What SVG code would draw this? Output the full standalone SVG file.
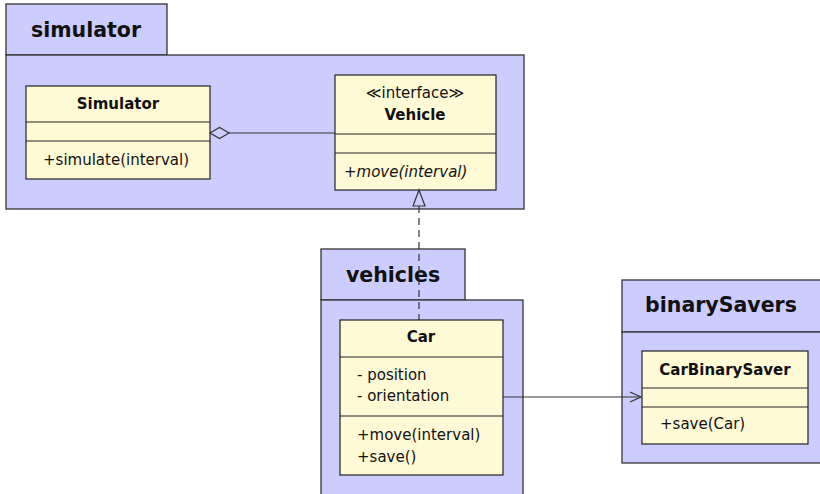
<svg xmlns="http://www.w3.org/2000/svg" width="820" height="494" viewBox="0 0 820 494">
<style>
.pkg{fill:#ccccff;stroke:#333;stroke-width:1.3}
.cls{fill:#fffad6;stroke:#222;stroke-width:1.2}
.sep{stroke:#222;stroke-width:1.2}
text{font-family:"DejaVu Sans","Liberation Sans",sans-serif;fill:#111}
.pt{font-size:20.5px;font-weight:bold;text-anchor:middle}
.cn{font-size:15px;font-weight:bold;text-anchor:middle}
.tx{font-size:15px}
.st{font-size:15px;text-anchor:middle}
.it{font-style:italic}
.edge{stroke:#333;stroke-width:1.2;fill:none}
</style>
<defs>
<marker id="open" markerWidth="14" markerHeight="12" refX="12" refY="6" orient="auto" markerUnits="userSpaceOnUse">
<path d="M1,1 L12,6 L1,11" fill="none" stroke="#333" stroke-width="1.2"/>
</marker>
</defs>
<g id="pkg-simulator">
<rect class="pkg" x="6" y="4" width="161" height="51"/>
<rect class="pkg" x="6" y="55" width="518" height="154"/>
<text class="pt" x="86" y="37">simulator</text>
</g>
<g id="pkg-vehicles">
<rect class="pkg" x="321" y="249" width="144" height="51"/>
<rect class="pkg" x="321" y="300" width="202" height="196"/>
<text class="pt" x="393" y="282">vehicles</text>
</g>
<g id="pkg-binarySavers">
<rect class="pkg" x="622" y="280" width="200" height="52"/>
<rect class="pkg" x="622" y="332" width="200" height="131"/>
<text class="pt" x="721" y="312">binarySavers</text>
</g>
<g id="Simulator">
<rect class="cls" x="26" y="86" width="184" height="93"/>
<line class="sep" x1="26" y1="122" x2="210" y2="122"/>
<line class="sep" x1="26" y1="141" x2="210" y2="141"/>
<text class="cn" x="118" y="109">Simulator</text>
<text class="tx" x="43" y="165">+simulate(interval)</text>
</g>
<g id="Vehicle">
<rect class="cls" x="335" y="75" width="161" height="115"/>
<line class="sep" x1="335" y1="134" x2="496" y2="134"/>
<line class="sep" x1="335" y1="153" x2="496" y2="153"/>
<text class="st" x="415" y="98">≪interface≫</text>
<text class="cn" x="415" y="120">Vehicle</text>
<text class="tx it" x="344" y="177">+move(interval)</text>
</g>
<g id="Car">
<rect class="cls" x="340" y="320" width="163" height="155"/>
<line class="sep" x1="340" y1="357" x2="503" y2="357"/>
<line class="sep" x1="340" y1="416" x2="503" y2="416"/>
<text class="cn" x="421" y="342">Car</text>
<text class="tx" x="357" y="380">- position</text>
<text class="tx" x="357" y="401">- orientation</text>
<text class="tx" x="357" y="440">+move(interval)</text>
<text class="tx" x="357" y="462">+save()</text>
</g>
<g id="CarBinarySaver">
<rect class="cls" x="642" y="351" width="166" height="93"/>
<line class="sep" x1="642" y1="388" x2="808" y2="388"/>
<line class="sep" x1="642" y1="407" x2="808" y2="407"/>
<text class="cn" x="725" y="375">CarBinarySaver</text>
<text class="tx" x="660" y="429">+save(Car)</text>
</g>
<g id="connectors">
<line class="edge" x1="229" y1="133" x2="335" y2="133"/>
<path d="M210,133 L219.5,127.5 L229,133 L219.5,138.5 Z" fill="#ccccff" stroke="#333" stroke-width="1.2"/>
<line class="edge" x1="419" y1="206" x2="419" y2="320" stroke-dasharray="7,5"/>
<path d="M419,190 L413,206 L425,206 Z" fill="#ccccff" stroke="#333" stroke-width="1.2"/>
<line class="edge" x1="503" y1="397" x2="641" y2="397" marker-end="url(#open)"/>
</g>
</svg>
